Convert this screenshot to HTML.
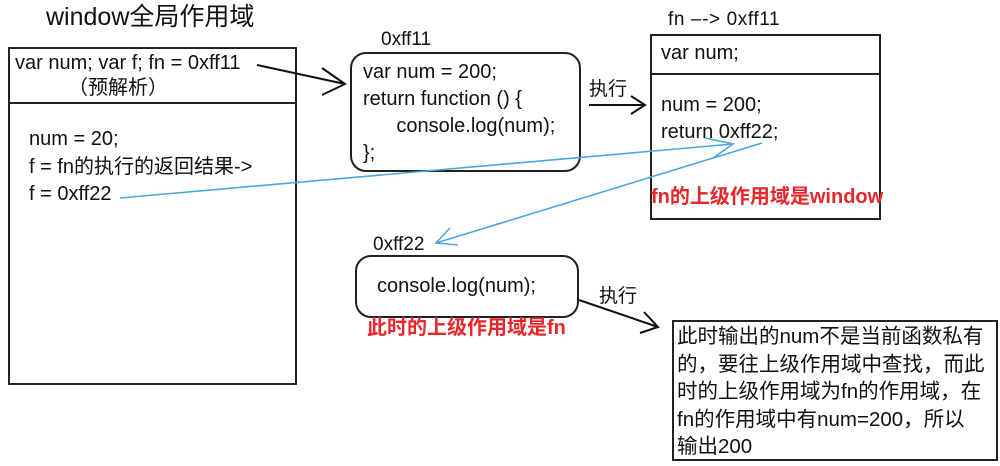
<!DOCTYPE html>
<html><head><meta charset="utf-8"><style>
body{margin:0;width:1000px;height:466px;background:#fff;position:relative;overflow:hidden;font-family:"Liberation Sans","Noto Sans CJK SC",sans-serif;color:#111}
.t{position:absolute;white-space:nowrap;font-size:20px;line-height:24px}
.box{position:absolute;border:2px solid #222;box-sizing:border-box}
.red{color:#e8262b;font-weight:bold;font-size:20px}
</style></head><body>
<div class="t" style="left:46px;top:2px;font-size:25px;line-height:30px">window全局作用域</div>
<div class="box" style="left:8px;top:47px;width:289px;height:338px"></div>
<div style="position:absolute;left:8px;top:102px;width:289px;height:2px;background:#222"></div>
<div class="t" style="left:15px;top:51px">var num; var f; fn = 0xff11</div>
<div class="t" style="left:68px;top:76px">（预解析）</div>
<div class="t" style="left:29px;top:126px;line-height:27.5px">num = 20;<br>f = fn的执行的返回结果-&gt;<br>f = 0xff22</div>

<div class="t" style="left:381px;top:28px;font-size:19px">0xff11</div>
<div class="box" style="left:350px;top:52px;width:231px;height:120px;border-radius:16px"></div>
<div class="t" style="left:363px;top:59px;line-height:27px">var num = 200;<br>return function () {<br>&nbsp;&nbsp;&nbsp;&nbsp;&nbsp;&nbsp;console.log(num);<br>};</div>

<div class="t" style="left:589px;top:78px;font-size:19px">执行</div>

<div class="t" style="left:668px;top:8px;font-size:19px;letter-spacing:0.6px">fn –-&gt; 0xff11</div>
<div class="box" style="left:650px;top:34px;width:231px;height:186px"></div>
<div class="box" style="left:650px;top:73px;width:231px;height:2px;border:none;background:#222"></div>
<div class="t" style="left:661px;top:41px">var num;</div>
<div class="t" style="left:661px;top:92px;line-height:27px">num = 200;<br>return 0xff22;</div>
<div class="t red" style="left:651px;top:185px">fn的上级作用域是window</div>

<div class="t" style="left:373px;top:233px;font-size:19px">0xff22</div>
<div class="box" style="left:355px;top:255px;width:224px;height:63px;border-radius:16px"></div>
<div class="t" style="left:377px;top:274px">console.log(num);</div>
<div class="t red" style="left:367px;top:316px">此时的上级作用域是fn</div>
<div class="t" style="left:599px;top:285px;font-size:19px">执行</div>

<div class="box" style="left:672px;top:320px;width:326px;height:141px"></div>
<div class="t" style="left:677px;top:323px;line-height:27.5px;font-size:20.5px">此时输出的num不是当前函数私有<br>的，要往上级作用域中查找，而此<br>时的上级作用域为fn的作用域，在<br>fn的作用域中有num=200，所以<br>输出200</div>

<svg width="1000" height="466" style="position:absolute;left:0;top:0" fill="none">
<g stroke="#111" stroke-width="2">
<path d="M257 65 L345 84 M322 68 L345 84 L322 95"/>
<path d="M589 105 L645 105 M631 96 L645 105 L631 114"/>
<path d="M579 300 L658 327 M644 312 L658 327 L640 333"/>
</g>
<g stroke="#4ba6e0" stroke-width="1.6">
<path d="M120 198 L733 144 M705 138 L733 144 L713 158"/>
<path d="M762 143 L436 243 M450 228 L436 243 L458 245"/>
</g>
</svg>
</body></html>
